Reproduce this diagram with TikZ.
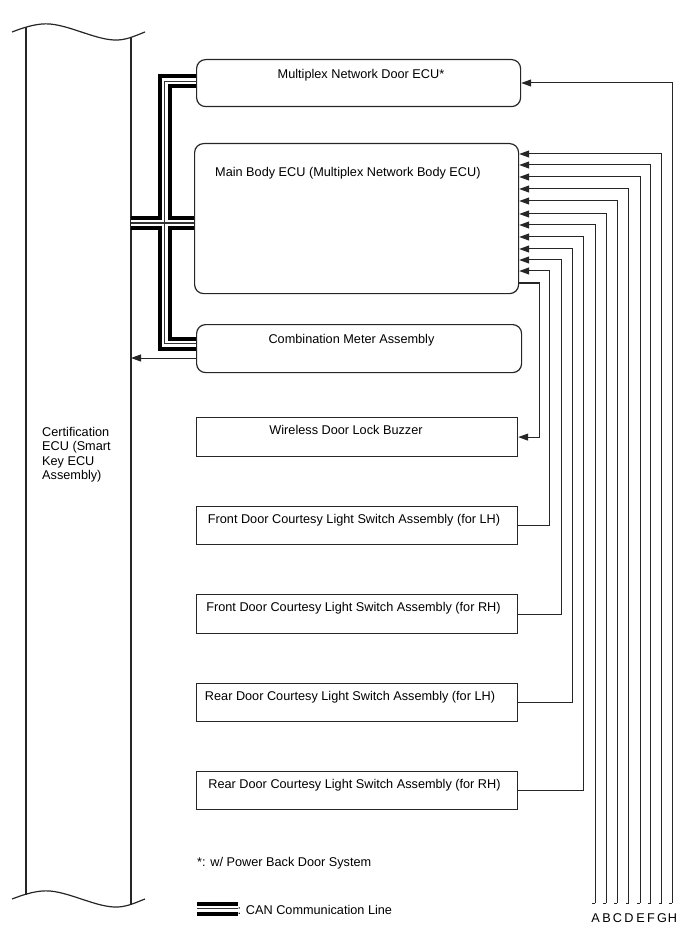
\documentclass[tikz,border=0pt]{standalone}
\usepackage{fontspec}
\setmainfont{Liberation Sans}
\usetikzlibrary{arrows.meta}
\begin{document}
\begin{tikzpicture}[x=1pt,y=-1pt,
  font=\fontsize{12.7}{14.5}\selectfont,
  box/.style={draw=black!85, line width=1.2pt, anchor=north west, inner sep=0pt},
  rbox/.style={box, rounded corners=9pt},
  lbl/.style={anchor=base, inner sep=0pt},
  wire/.style={line width=1pt, draw=black!85},
  arr/.style={wire, -{Triangle[length=10pt,width=7pt]}},
  can/.style={line width=14pt, draw=black, line join=miter,
    postaction={draw, white, line width=6pt, line join=miter},
    postaction={draw, black!80, line width=1.4pt, line join=miter}}
]
\useasboundingbox (0,0) rectangle (688,949);

% Certification ECU (broken column)
\draw[line width=1.2pt, black!85]
  (12,32) .. controls (25,27) and (38,23) .. (50,24)
          .. controls (72,26) and (98,41) .. (118,40)
          .. controls (128,39.5) and (137,35) .. (145,32);
\draw[line width=1.2pt, black!85]
  (12,899) .. controls (25,894) and (38,890) .. (50,891)
           .. controls (72,893) and (98,908) .. (118,907)
           .. controls (128,906.5) and (137,902) .. (145,899);
\draw[line width=1.2pt, black!85] (26,27.5) -- (26,894.5);
\draw[line width=1.2pt, black!85] (131,37.5) -- (131,904.5);
\node[anchor=north west, align=left, inner sep=0pt] (tce) at (42,427)
  {Certification\\ECU (Smart\\Key ECU\\Assembly)};

% Boxes
\node[rbox, minimum width=324pt, minimum height=47pt] (dd) at (196,59) {};
\node[rbox, minimum width=324pt, minimum height=150pt] (mb) at (194,143) {};
\node[rbox, minimum width=325pt, minimum height=48pt] (cm) at (196,324) {};
\node[box, minimum width=321pt, minimum height=39pt] (bz) at (196,417) {};
\node[box, minimum width=321pt, minimum height=38pt] (fl) at (196,506) {};
\node[box, minimum width=321pt, minimum height=39pt] (fr) at (196,594) {};
\node[box, minimum width=321pt, minimum height=38pt] (rl) at (196,683) {};
\node[box, minimum width=321pt, minimum height=38pt] (rr) at (196,771) {};

% Box labels
\node[lbl] (tdd) at (361,78.5) {Multiplex Network Door ECU*};
\node[lbl, anchor=base west] (tmb) at (215,177) {Main Body ECU (Multiplex Network Body ECU)};
\node[lbl] (tcm) at (351.5,343) {Combination Meter Assembly};
\node[lbl] (tbz) at (346,434) {Wireless Door Lock Buzzer};
\node[lbl] (tfl) at (354,523) {Front Door Courtesy Light Switch Assembly (for LH)};
\node[lbl] (tfr) at (353.5,611) {Front Door Courtesy Light Switch Assembly (for RH)};
\node[lbl] (trl) at (350,700) {Rear Door Courtesy Light Switch Assembly (for LH)};
\node[lbl] (trr) at (354.5,788) {Rear Door Courtesy Light Switch Assembly (for RH)};

% CAN lines
\coordinate (ct) at (0,81.5);
\coordinate (tb) at (164.5,343.5);
\coordinate (cj) at (131,223);
\draw[can] (dd.west |- ct) -| (tb) -- (cm.west |- tb)
           (cj) -- (mb.west |- cj);

% Combination meter -> Certification ECU
\coordinate (cert) at (131,358);
\draw[arr] (cm.west |- cert) -- (cert);

% Main body -> buzzer
\coordinate (cbz) at (539.5,283);
\draw[arr] (mb.east |- cbz) -- (cbz) |- (bz.east);

% Courtesy switches -> main body
\coordinate (cfl) at (549.5,271);
\coordinate (cfr) at (561,260);
\coordinate (crl) at (572,249);
\coordinate (crr) at (583.5,237);
\draw[arr] (fl.east) -| (cfl) -- (mb.east |- cfl);
\draw[arr] (fr.east) -| (cfr) -- (mb.east |- cfr);
\draw[arr] (rl.east) -| (crl) -- (mb.east |- crl);
\draw[arr] (rr.east) -| (crr) -- (mb.east |- crr);

% Lines A..G -> main body
\foreach \n/\x/\y in {G/661.5/154, F/650.5/165, E/640/177, D/628.5/189, C/617/201, B/606/214, A/595/225} {
  \coordinate (b\n) at (\x,903);
  \coordinate (y\n) at (0,\y);
  \draw[arr] (b\n) |- (mb.east |- y\n);
  \draw[wire] (b\n) -- ++(-3,0);
  \node[lbl] (L\n) at (\x+0.5,922) {\n};
}
% Line H -> door ECU
\coordinate (bH) at (672,903);
\coordinate (yH) at (0,83);
\draw[arr] (bH) |- (dd.east |- yH);
\draw[wire] (bH) -- ++(-3,0);
\node[lbl] (LH) at (672.5,922) {H};

% Legend
\node[lbl, anchor=base west] (tnote) at (197,866.5) {*: w/ Power Back Door System};
\coordinate (lg1) at (197,908.5);
\coordinate (lg2) at (237.5,908.5);
\draw[can] (lg1) -- (lg2);
\node[lbl, anchor=base west] (tcan) at (237.5,914) {: CAN Communication Line};
\end{tikzpicture}
\end{document}
